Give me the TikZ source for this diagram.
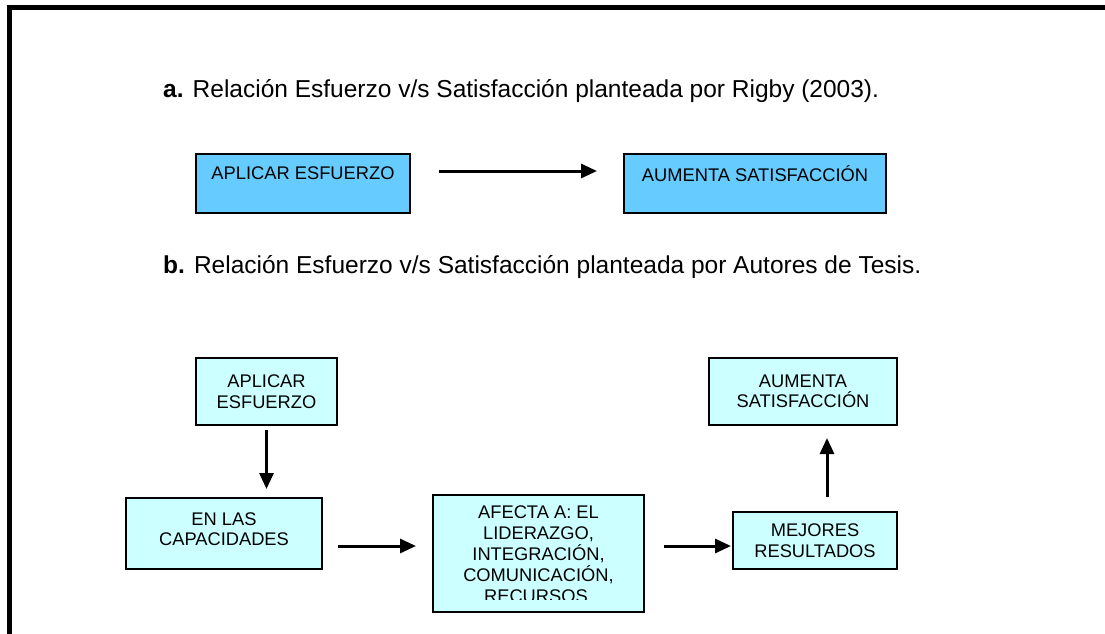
\documentclass[tikz,border=0pt]{standalone}
\usepackage{fontspec}
\setmainfont{Liberation Sans}
\usetikzlibrary{arrows.meta}

\definecolor{azul}{HTML}{66CCFF}
\definecolor{celeste}{HTML}{CCFFFF}

\begin{document}
\begin{tikzpicture}[x=1pt, y=-1pt,
                    caja/.style={rectangle, draw, line width=2pt, align=center, inner sep=2pt,
                                 font=\fontsize{18.3}{20.5}\selectfont},
                    caja a/.style={caja, fill=azul},
                    caja b/.style={caja, fill=celeste},
                    flecha/.style={line width=3pt, -{Triangle[length=16pt, width=14pt]}},
                    titulo/.style={anchor=base west, inner sep=0pt, font=\fontsize{24.5}{28}\selectfont}]

        \useasboundingbox (0,0) rectangle (1105,634);
        \draw[line width=5pt] (9.5,640) -- (9.5,7.5) -- (1110,7.5);

        % parte a
        \node[titulo] (tituloA) at (163,97) {\textbf{a.} Relación Esfuerzo v/s Satisfacción planteada por Rigby (2003).};
        \node[caja a, minimum width=214pt, minimum height=59pt] (esfuerzoA) at (303,183.5) {APLICAR ESFUERZO\\[-6pt] \strut};
        \node[caja a, minimum width=262pt, minimum height=59pt] (satisfA) at (755,183.5) {AUMENTA SATISFACCIÓN\\[-6pt] \strut};
        \draw[flecha, shorten <=28pt, shorten >=26pt] ([yshift=12.5pt]esfuerzoA.east) -- ([yshift=12.5pt]esfuerzoA.east -| satisfA.west);

        % parte b
        \node[titulo] (tituloB) at (163,273) {\textbf{b.} Relación Esfuerzo v/s Satisfacción planteada por Autores de Tesis.};
        \node[caja b, minimum width=141pt, minimum height=67pt] (esfuerzoB) at (266.5,391.5) {APLICAR\\ESFUERZO};
        \node[caja b, minimum width=196pt, minimum height=71pt] (capacidades) at (224,533.5) {EN LAS\\CAPACIDADES\\[-12pt]};
        \node[caja b, minimum width=211pt, minimum height=117pt,
              path picture={
                \clip ([yshift=13pt]path picture bounding box.south west) rectangle (path picture bounding box.north east);
                \node[anchor=north, inner sep=0pt, align=center, font=\fontsize{18.3}{21}\selectfont]
                  at (path picture bounding box.north)
                  {AFECTA A: EL\\LIDERAZGO,\\INTEGRACIÓN,\\COMUNICACIÓN,\\RECURSOS.};
              }] (afecta) at (538.5,553.5) {};
        \node[caja b, minimum width=164pt, minimum height=57pt] (resultados) at (815,540.5) {MEJORES\\RESULTADOS};
        \node[caja b, minimum width=188pt, minimum height=67pt] (satisfB) at (803,391.5) {AUMENTA\\SATISFACCIÓN};

        \draw[flecha, shorten <=4pt, shorten >=8pt] (esfuerzoB.south) -- (esfuerzoB.south |- capacidades.north);
        \draw[flecha, shorten <=15pt, shorten >=16pt] ([yshift=-12.5pt]capacidades.east) -- ([yshift=-12.5pt]capacidades.east -| afecta.west);
        \draw[flecha, shorten <=19pt, shorten >=1pt] ([yshift=7.5pt]afecta.east) -- ([yshift=7.5pt]afecta.east -| resultados.west);
        \draw[flecha, shorten <=14pt, shorten >=12pt] ([xshift=12pt]resultados.north) -- ([xshift=12pt]resultados.north |- satisfB.south);
    \end{tikzpicture}
\end{document}
